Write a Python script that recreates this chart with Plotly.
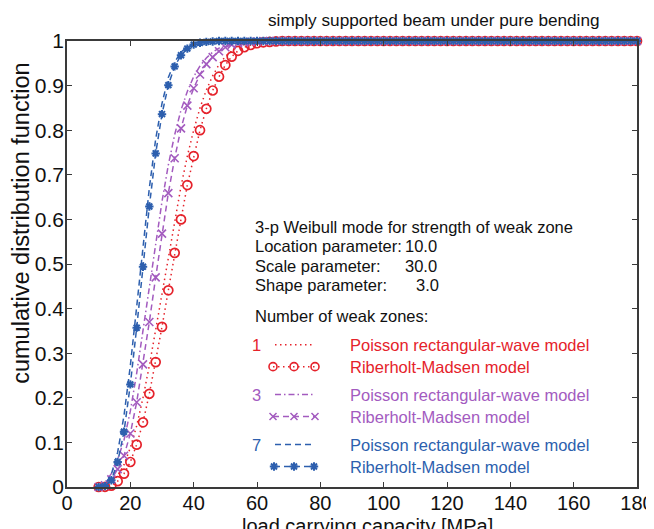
import plotly.graph_objects as go

# ---------------- data ----------------
load = list(range(10, 182, 2))  # load carrying capacity grid [MPa]

# n = 1 weak zone
red_poisson_head = [0, 0.002, 0.010, 0.026, 0.050, 0.088, 0.137, 0.200, 0.272, 0.352,
                    0.434, 0.518, 0.598, 0.674, 0.742, 0.800, 0.850, 0.890, 0.922, 0.947,
                    0.965, 0.978, 0.987, 0.992, 0.995, 0.997, 0.998, 0.999]
red_rm_head = [0, 0.0005, 0.003, 0.013, 0.030, 0.056, 0.095, 0.145, 0.209, 0.280,
               0.359, 0.441, 0.525, 0.600, 0.677, 0.742, 0.800, 0.848, 0.889, 0.920,
               0.946, 0.965, 0.978, 0.986, 0.991, 0.995, 0.997, 0.998, 0.999]
# n = 3 weak zones
purple_poisson_head = [0, 0.010, 0.030, 0.062, 0.105, 0.170, 0.255, 0.350, 0.450, 0.548,
                       0.640, 0.722, 0.790, 0.845, 0.887, 0.920, 0.944, 0.962, 0.975, 0.984,
                       0.990, 0.994, 0.997, 0.998, 0.999]
purple_rm_head = [0, 0.004, 0.017, 0.040, 0.070, 0.120, 0.190, 0.275, 0.370, 0.470,
                  0.568, 0.659, 0.737, 0.804, 0.855, 0.894, 0.925, 0.948, 0.964, 0.977,
                  0.986, 0.992, 0.995, 0.997, 0.998, 0.999]
# n = 7 weak zones
blue_poisson_head = [0, 0.005, 0.028, 0.078, 0.160, 0.272, 0.404, 0.540, 0.670, 0.780,
                     0.860, 0.918, 0.953, 0.975, 0.987, 0.994, 0.997, 0.999]
blue_rm_head = [0, 0.002, 0.015, 0.056, 0.124, 0.230, 0.357, 0.494, 0.629, 0.748,
                0.836, 0.901, 0.943, 0.968, 0.983, 0.992, 0.996, 0.998, 0.999]


def full(head):
    # curves stay at 1.0 for the rest of the load range
    return head + [1.0] * (len(load) - len(head))


red_poisson = full(red_poisson_head)
red_rm = full(red_rm_head)
purple_poisson = full(purple_poisson_head)
purple_rm = full(purple_rm_head)
blue_poisson = full(blue_poisson_head)
blue_rm = full(blue_rm_head)

x_ticks = [0, 20, 40, 60, 80, 100, 120, 140, 160, 180]
y_ticks = [0, 0.1, 0.2, 0.3, 0.4, 0.5, 0.6, 0.7, 0.8, 0.9, 1.0]
y_ticktext = ["0", "0.1", "0.2", "0.3", "0.4", "0.5", "0.6", "0.7", "0.8", "0.9", "1"]

RED = "#e5222b"
PURPLE = "#a35bbf"
BLUE = "#2d5fae"
FONT = "Arial, Liberation Sans, sans-serif"
DASH = "6px,4px"
DOT = "1.5px,3.5px"
DASHDOT = "6px,3px,1.5px,3px"

# window size, page offset (default body margin) and plot area in window pixels
WIN_W, WIN_H, OFF = 654, 529, 8
L, R, T, B = 67, 637, 41, 487.5
W, H = WIN_W - OFF, WIN_H - OFF

fig = go.Figure()

def curve(y, color, dash, symbol=None, msize=8, mlw=1.6):
    kw = dict(x=load, y=y, mode="lines", line=dict(color=color, width=1.5, dash=dash),
              showlegend=False, cliponaxis=False)
    if symbol:
        kw["mode"] = "lines+markers"
        kw["marker"] = dict(symbol=symbol, size=msize, color=color,
                            line=dict(color=color, width=mlw))
    fig.add_trace(go.Scatter(**kw))

curve(red_poisson, RED, DOT)
curve(red_rm, RED, DOT, "circle-open", 9, 1.7)
curve(purple_poisson, PURPLE, DASHDOT)
curve(purple_rm, PURPLE, DASH, "x-thin-open", 8, 1.6)
curve(blue_poisson, BLUE, DASH)
curve(blue_rm, BLUE, DASH, "asterisk-open", 7, 2)

# ---------------- custom legend (overlay axes in window pixel units) ----------------
def sample(xs, ys, color, dash, symbol=None, msize=8, mlw=1.6):
    kw = dict(x=xs, y=ys, xaxis="x2", yaxis="y2", mode="lines",
              line=dict(color=color, width=1.5, dash=dash), showlegend=False,
              cliponaxis=False, hoverinfo="skip")
    if symbol:
        kw["mode"] = "lines+markers"
        kw["marker"] = dict(symbol=symbol, size=msize, color=color,
                            line=dict(color=color, width=mlw))
    fig.add_trace(go.Scatter(**kw))

sample([275, 312], [345, 345], RED, DOT)
sample([273, 294, 315], [367, 367, 367], RED, DOT, "circle-open", 8, 1.6)
sample([275, 313], [395, 395], PURPLE, DASHDOT)
sample([273, 294, 315], [417, 417, 417], PURPLE, DASH, "x-thin-open", 7, 1.5)
sample([275, 313], [445, 445], BLUE, DASH)
sample([274, 294, 314], [467, 467, 467], BLUE, DASH, "asterisk-open", 7, 2)

ann = []
def text(x, y, s, color="#111", size=16.5, xanchor="left", angle=0):
    # x, y in window pixels -> paper coordinates
    ann.append(dict(x=(x - L) / (R - L), y=(B - y) / (B - T), xref="paper", yref="paper",
                    text=s, showarrow=False, xanchor=xanchor, yanchor="middle",
                    textangle=angle, font=dict(family=FONT, size=size, color=color)))

text(253, 227, "3-p Weibull mode for strength of weak zone")
text(253, 246, "Location parameter:")
text(253, 266, "Scale parameter:")
text(253, 285, "Shape parameter:")
text(439, 246, "10.0", xanchor="right")
text(439, 266, "30.0", xanchor="right")
text(441, 285, "3.0", xanchor="right")
text(253, 316, "Number of weak zones:")

text(256, 345, "1", RED, xanchor="center")
text(348, 345, "Poisson rectangular-wave model", RED)
text(348, 367, "Riberholt-Madsen model", RED)
text(256, 395, "3", PURPLE, xanchor="center")
text(348, 395, "Poisson rectangular-wave model", PURPLE)
text(348, 417, "Riberholt-Madsen model", PURPLE)
text(256, 445, "7", BLUE, xanchor="center")
text(348, 445, "Poisson rectangular-wave model", BLUE)
text(348, 467, "Riberholt-Madsen model", BLUE)

# title & axis titles
text(434, 20, "simply supported beam under pure bending", "#111", 17.2, "center")
text(367, 526.5, "load carrying capacity [MPa]", "#111", 20, "center")
text(21, 224, "cumulative distribution function", "#111", 23.5, "center", -90)

AX = "#3a3a3a"
fig.update_layout(
    width=W, height=H,
    margin=dict(l=L - OFF, r=WIN_W - R, t=T - OFF, b=WIN_H - B, pad=0, autoexpand=False),
    paper_bgcolor="white", plot_bgcolor="white",
    font=dict(family=FONT, color="#111"),
    annotations=ann,
    xaxis=dict(range=[0, 180], tickvals=x_ticks, ticks="inside", ticklen=5,
               tickcolor=AX, tickwidth=1.2, showline=True, linecolor=AX, linewidth=1.5,
               mirror="ticks", showgrid=False, zeroline=False, automargin=False,
               ticklabelstandoff=-3,
               tickfont=dict(size=20, color="#111"), fixedrange=True),
    yaxis=dict(range=[0, 1], tickvals=y_ticks, ticktext=y_ticktext, ticks="inside",
               ticklen=5, tickcolor=AX, tickwidth=1.2, showline=True, linecolor=AX,
               linewidth=1.5, mirror="ticks", showgrid=False, zeroline=False,
               automargin=False, ticklabelstandoff=-3,
               tickfont=dict(size=21, color="#111"), fixedrange=True),
    xaxis2=dict(range=[L, R], overlaying="x", visible=False, fixedrange=True),
    yaxis2=dict(range=[B, T], overlaying="y", visible=False, fixedrange=True),
)

fig.write_html("out.html")
